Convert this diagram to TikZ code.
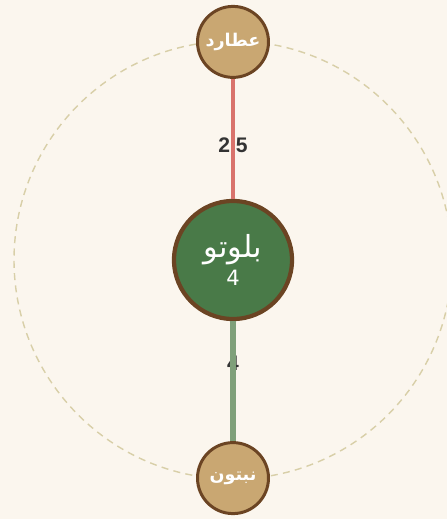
\documentclass[tikz,border=0pt]{standalone}
\usepackage{fontspec}
\setmainfont{Liberation Sans}
\newfontfamily\arabicfont[Script=Arabic]{DejaVu Sans}
\TeXXeTstate=1
\usetikzlibrary{positioning, backgrounds}
\definecolor{PaperBg}{HTML}{FBF6EE}
\definecolor{SandFill}{HTML}{C9A772}
\definecolor{BarkLine}{HTML}{6B4423}
\definecolor{MossFill}{HTML}{497A48}
\definecolor{RoseEdge}{HTML}{D9736C}
\definecolor{SageEdge}{HTML}{7FA07A}
\definecolor{OrbitLine}{HTML}{D8CFA8}
\definecolor{InkText}{HTML}{333333}
\tikzset{
  planet/.style={circle, draw=BarkLine, line width=1.7pt, fill=SandFill,
    minimum size=1.42cm, inner sep=0pt, text=white, font=\arabicfont\bfseries},
  core/.style={circle, draw=BarkLine, line width=2.4pt, fill=MossFill,
    minimum size=2.36cm, inner sep=0pt, text=white, align=center,
    font=\arabicfont\LARGE},
  redge/.style={draw=RoseEdge, line width=2.2pt},
  gedge/.style={draw=SageEdge, line width=3.2pt},
  elabel/.style={font=\bfseries\large, text=InkText, inner sep=1pt},
  orbit/.style={draw=OrbitLine, line width=0.8pt, dash pattern=on 4pt off 3pt},
}
\begin{document}
\begin{tikzpicture}[node distance=2.5cm]
  \useasboundingbox (0,0) rectangle (8.94,10.38);
  % nodes
  \node[core] (pluto) at (4.66,5.18) {\beginR بلوتو\endR\\[-6pt]{\arabicfont\large 4}};
  \node[planet, above=2.4cm of pluto] (utarid) {\beginR عطارد\endR};
  \node[planet, below=2.4cm of pluto] (neptun) {\beginR نبتون\endR};
  % canvas, orbit and weights behind the links
  \begin{scope}[on background layer]
    \fill[PaperBg] (0,0) rectangle (8.94,10.38);
    \draw[orbit] (pluto.center) circle[radius=4.38];
    \path (utarid.center) -- (pluto.center) node[midway, yshift=0.12cm, elabel] (w1) {2.5};
    \path (pluto.center) -- (neptun.center) node[midway, yshift=0.12cm, elabel] (w2) {4};
  \end{scope}
  % links
  \draw[redge] (utarid) -- (pluto);
  \draw[gedge] (pluto) -- (neptun);
\end{tikzpicture}
\end{document}
